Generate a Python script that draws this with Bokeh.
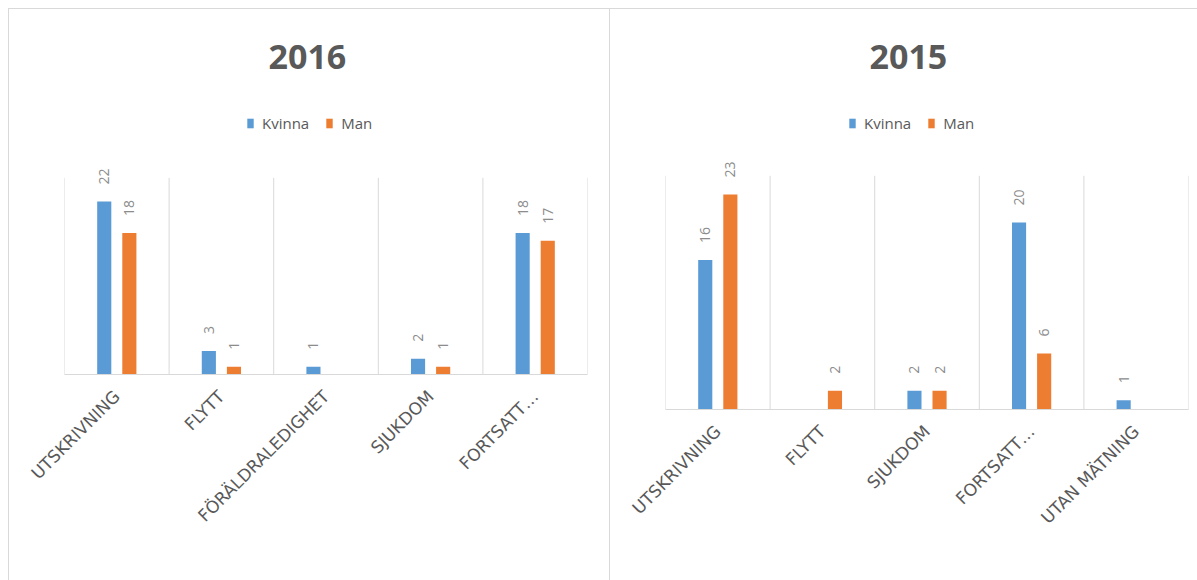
import math
from bokeh.plotting import figure
from bokeh.models import ColumnDataSource, FactorRange, Range1d, Legend, LegendItem, LabelSet
from bokeh.transform import dodge
from bokeh.layouts import row
from bokeh.core.properties import value
from bokeh.embed import file_html
from bokeh.resources import INLINE

# ---- data ----
cats_2016 = ["UTSKRIVNING", "FLYTT", "FÖRÄLDRALEDIGHET", "SJUKDOM", "FORTSATT…"]
kvinna_2016 = [22, 3, 1, 2, 18]
man_2016 = [18, 1, None, 1, 17]

cats_2015 = ["UTSKRIVNING", "FLYTT", "SJUKDOM", "FORTSATT…", "UTAN MÄTNING"]
kvinna_2015 = [16, None, 2, 20, 1]
man_2015 = [23, 2, 2, 6, None]

series_names = ["Kvinna", "Man"]
series_colors = ["#5b9bd5", "#ed7d31"]
y_max = 25

GRID = "#d9d9d9"
TXT = "#595959"
LBL = "#8c8c8c"


def make_panel(title, cats, kv, mn, fw, fh, y_top, top, bottom, left, right,
               title_offset, legend_loc):
    p = figure(frame_width=fw, frame_height=fh, x_range=FactorRange(factors=cats),
               y_range=Range1d(0, y_top), output_backend="svg", toolbar_location=None,
               y_axis_location=None, title=title,
               min_border_left=left, min_border_right=right,
               min_border_top=top, min_border_bottom=bottom)
    p.styles = {"border-top": "1px solid #d9d9d9", "border-left": "1px solid #d9d9d9"}
    p.outline_line_color = None
    p.background_fill_color = "white"
    p.border_fill_color = "white"
    p.xgrid.grid_line_color = None
    p.ygrid.grid_line_color = None

    p.title.text_font = "Open Sans"
    p.title.text_font_size = "34px"
    p.title.text_font_style = "bold"
    p.title.text_color = TXT
    p.title.align = "left"
    p.title.offset = title_offset

    # category separators (gridlines between categories)
    sep = list(range(len(cats) + 1))
    p.segment(x0=sep, y0=[0] * len(sep), x1=sep, y1=[y_max] * len(sep),
              line_color=GRID, line_width=1)

    renderers = []
    for vals, off, color in [(kv, -0.12, series_colors[0]), (mn, 0.12, series_colors[1])]:
        xs = [c for c, v in zip(cats, vals) if v is not None]
        ys = [v for v in vals if v is not None]
        src = ColumnDataSource(dict(cat=xs, val=ys, txt=[str(v) for v in ys]))
        r = p.vbar(x=dodge("cat", off, range=p.x_range), top="val", width=0.135,
                   source=src, fill_color=color, line_color=None)
        renderers.append(r)
        p.add_layout(LabelSet(x=dodge("cat", off, range=p.x_range), y="val", text="txt", source=src,
                              angle=math.pi / 2, text_align="left", text_baseline="middle",
                              y_offset=17, text_font=value("Open Sans"), text_font_size="14px",
                              text_color=LBL))

    legend = Legend(items=[LegendItem(label=n, renderers=[r]) for n, r in zip(series_names, renderers)],
                    orientation="horizontal", location=legend_loc,
                    border_line_color=None, background_fill_alpha=0,
                    label_text_font="Open Sans", label_text_font_size="15px",
                    label_text_color=TXT, glyph_width=8, glyph_height=12,
                    label_standoff=8, spacing=16, margin=0, padding=0)
    p.add_layout(legend, "center")

    ax = p.xaxis[0]
    ax.axis_line_color = GRID
    ax.major_tick_line_color = None
    ax.minor_tick_line_color = None
    ax.major_label_orientation = math.pi / 4
    ax.major_label_text_font = "DejaVu Sans"
    ax.major_label_text_font_size = "17px"
    ax.major_label_text_color = TXT
    ax.major_label_standoff = 13
    return p


# left: 7.84 px/unit (196 px for 25), baseline at 373
p1 = make_panel("2016", cats_2016, kvinna_2016, man_2016, 522, 300, y_max * 300 / 196,
                top=64, bottom=207, left=55, right=23, title_offset=204,
                legend_loc=(182, 241))
# right: 9.33 px/unit (233 px for 25), baseline at 408
p2 = make_panel("2015", cats_2015, kvinna_2015, man_2015, 522, 335, y_max * 335 / 233,
                top=64, bottom=172, left=55, right=12, title_offset=204,
                legend_loc=(183, 276))

layout = row(p1, p2, margin=(8, 0, 0, 8))
open("out.html", "w").write(file_html(layout, INLINE))
